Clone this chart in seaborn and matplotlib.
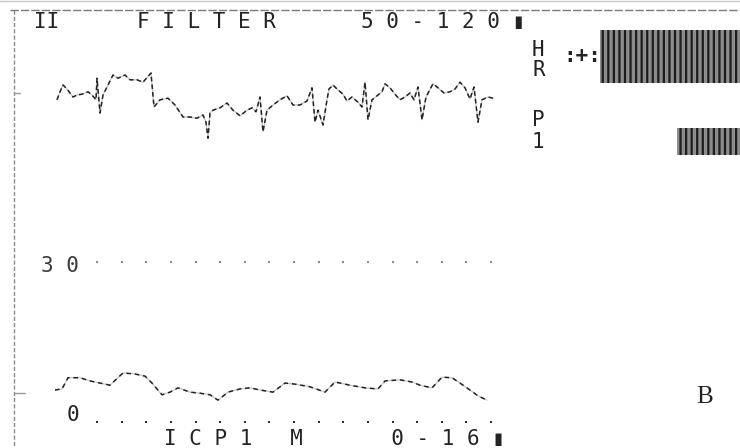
import numpy as np
import pandas as pd
import matplotlib
matplotlib.use("Agg")
import matplotlib.pyplot as plt
from matplotlib.patches import Rectangle
import seaborn as sns

# ECG lead II (time in s, amplitude in mV)
ecg_t = [0.02, 0.05, 0.08, 0.12, 0.18, 0.22, 0.27, 0.33, 0.37, 0.41, 0.42, 0.45,
         0.48, 0.53, 0.58, 0.63, 0.70, 0.75, 0.82, 0.88, 0.96, 0.99, 1.05, 1.13,
         1.20, 1.28, 1.35, 1.42, 1.48, 1.51, 1.53, 1.55, 1.58, 1.65, 1.72, 1.78,
         1.85, 1.92, 1.97, 2.01, 2.05, 2.08, 2.12, 2.18, 2.25, 2.32, 2.38, 2.45,
         2.52, 2.57, 2.60, 2.63, 2.68, 2.72, 2.74, 2.78, 2.82, 2.88, 2.92, 2.97,
         3.03, 3.07, 3.10, 3.13, 3.17, 3.23, 3.27, 3.30, 3.35, 3.40, 3.45, 3.50,
         3.55, 3.59, 3.63, 3.67, 3.71, 3.78, 3.82, 3.89, 3.95, 4.00, 4.05, 4.10,
         4.15, 4.19, 4.23, 4.27, 4.33, 4.38]
ecg_mv = [-0.12, 0.08, 0.25, 0.15, -0.05, 0.00, 0.02, 0.08, 0.00, -0.12, 0.42, -0.45,
          0.00, 0.25, 0.50, 0.42, 0.50, 0.38, 0.38, 0.32, 0.55, -0.30, -0.12, -0.08,
          -0.25, -0.55, -0.55, -0.58, -0.50, -0.68, -1.08, -0.45, -0.38, -0.32, -0.20, -0.38,
          -0.52, -0.38, -0.32, -0.42, -0.05, -0.92, -0.38, -0.25, -0.12, -0.02, -0.25, -0.25,
          -0.15, 0.18, -0.68, -0.38, -0.75, -0.12, 0.15, 0.25, 0.15, 0.02, -0.15, -0.05,
          -0.18, -0.30, 0.32, -0.62, -0.12, 0.00, 0.08, 0.28, 0.18, 0.02, -0.12, -0.05,
          0.05, -0.12, 0.20, -0.62, -0.05, 0.28, 0.20, 0.05, 0.08, 0.15, 0.32, 0.18,
          -0.10, 0.20, -0.68, -0.12, -0.05, -0.08]

# Intracranial pressure (time in s, mmHg)
icp_t = [0.00, 0.07, 0.13, 0.25, 0.35, 0.45, 0.55, 0.68, 0.80, 0.90, 0.97, 1.07,
         1.15, 1.23, 1.35, 1.45, 1.55, 1.63, 1.73, 1.85, 1.95, 2.05, 2.18, 2.30,
         2.40, 2.55, 2.70, 2.80, 2.95, 3.10, 3.23, 3.30, 3.45, 3.57, 3.65, 3.77,
         3.87, 3.97, 4.05, 4.15, 4.23, 4.32]
icp_mmhg = [6.0, 6.2, 8.3, 8.3, 7.7, 7.3, 6.9, 9.2, 9.0, 8.6, 7.3, 5.1,
            5.6, 6.4, 5.6, 5.4, 5.1, 4.1, 5.6, 6.2, 6.4, 6.0, 5.6, 7.3,
            7.1, 6.6, 5.6, 7.5, 6.9, 6.4, 6.2, 7.7, 7.9, 7.5, 6.9, 6.4,
            8.4, 8.3, 7.3, 6.0, 4.9, 4.1]

icp_scale = [0, 30]
header_lead = "II"
header_filter = "FILTER"
header_band = "50-120"
footer_channel = "ICP1"
footer_mode = "M"
footer_range = "0-16"
panel_label = "B"

W, H = 740, 448
INK = "#232323"
MONO = ["DejaVu Sans Mono", "DejaVu Sans"]

sns.set_theme(style="white")
plt.rcParams["hatch.linewidth"] = 1.6

fig = plt.figure(figsize=(W / 100, H / 100), dpi=100)
fig.patch.set_facecolor("white")


def frame(x0, y0, x1, y1):
    return [x0 / W, 1 - y1 / H, (x1 - x0) / W, (y1 - y0) / H]


def spaced(s):
    return " ".join(s)


# Screen layer in pixel units for borders, labels and numeric readouts
bg = fig.add_axes([0, 0, 1, 1])
bg.set_xlim(0, W)
bg.set_ylim(H, 0)
bg.axis("off")

bg.plot([0, W], [1.5, 1.5], color="#c8c8c8", lw=1.0)
bg.plot([10, W], [10.5, 10.5], color="#7a7a7a", lw=1.0, linestyle=(0, (6, 1.5)))
bg.plot([13.5, 13.5], [10, H], color="#8a8a8a", lw=1.0, linestyle=(0, (3, 1.5)))
bg.plot([14, 20], [93, 93], color="#9a9a9a", lw=1.0)
bg.plot([15, 25], [393, 393], color="#9a9a9a", lw=1.0)

txt = dict(family=MONO, fontsize=15, color=INK, va="center", ha="left")
bg.text(34, 22, header_lead, **txt)
bg.text(137, 22, spaced(header_filter), **txt)
bg.text(361, 22, spaced(header_band) + " \u25AE", **txt)
bg.text(164, 439, spaced(footer_channel) + "   " + footer_mode + "       "
        + spaced(footer_range) + " \u25AE", **txt)
bg.text(41, 266, spaced(str(icp_scale[1])), family=MONO, fontsize=15,
        color="#3a3a3a", va="center", ha="left")
bg.text(67, 415, str(icp_scale[0]), **txt)

bg.text(532, 50, "H", **txt)
bg.text(532, 70, "R", **txt)
bg.text(532, 120, "P", **txt)
bg.text(532, 142, "1", **txt)
bg.text(563, 56, ":+:", family=MONO, fontsize=15, fontweight="bold",
        color=INK, va="center", ha="left")

bg.add_patch(Rectangle((600, 30), 140, 53, facecolor="#8c8c8c",
                       edgecolor="#1c1c1c", hatch="|||", lw=0))
bg.add_patch(Rectangle((677, 128), 63, 27, facecolor="#8c8c8c",
                       edgecolor="#1c1c1c", hatch="|||", lw=0))

bg.text(705, 397, panel_label, family=["Liberation Serif", "DejaVu Serif"],
        fontsize=18, color=INK, va="center", ha="center")

# ECG trace
ecg = pd.DataFrame({"t": ecg_t, "mv": ecg_mv})
ax_ecg = fig.add_axes(frame(55, 50, 495, 150))
ax_ecg.patch.set_alpha(0)
sns.lineplot(data=ecg, x="t", y="mv", ax=ax_ecg, sort=False, estimator=None,
             color="#c4c4c4", lw=0.9)
sns.lineplot(data=ecg, x="t", y="mv", ax=ax_ecg, sort=False, estimator=None,
             color=INK, lw=1.1, linestyle=(0, (3, 2)))
ax_ecg.set_xlim(0, 4.4)
ax_ecg.set_ylim(-1.375, 1.125)
ax_ecg.axis("off")

# ICP trace with its dotted scale rows
icp = pd.DataFrame({"t": icp_t, "p": icp_mmhg})
ax_icp = fig.add_axes(frame(55, 262, 495, 422))
ax_icp.patch.set_alpha(0)
sns.lineplot(data=icp, x="t", y="p", ax=ax_icp, sort=False, estimator=None,
             color="#c4c4c4", lw=0.9)
sns.lineplot(data=icp, x="t", y="p", ax=ax_icp, sort=False, estimator=None,
             color=INK, lw=1.1, linestyle=(0, (3, 2.5)))
dots_t = np.linspace(0.42, 4.36, 17)
sns.scatterplot(x=dots_t, y=[icp_scale[1]] * len(dots_t), ax=ax_icp, marker="s",
                s=3, color="#8a8a8a", linewidth=0, clip_on=False)
sns.scatterplot(x=dots_t, y=[icp_scale[0]] * len(dots_t), ax=ax_icp, marker="s",
                s=4, color="#2e2e2e", linewidth=0, clip_on=False)
ax_icp.set_xlim(0, 4.4)
ax_icp.set_ylim(icp_scale[0], icp_scale[1])
ax_icp.axis("off")

fig.savefig("out.png", dpi=100, facecolor="white")
